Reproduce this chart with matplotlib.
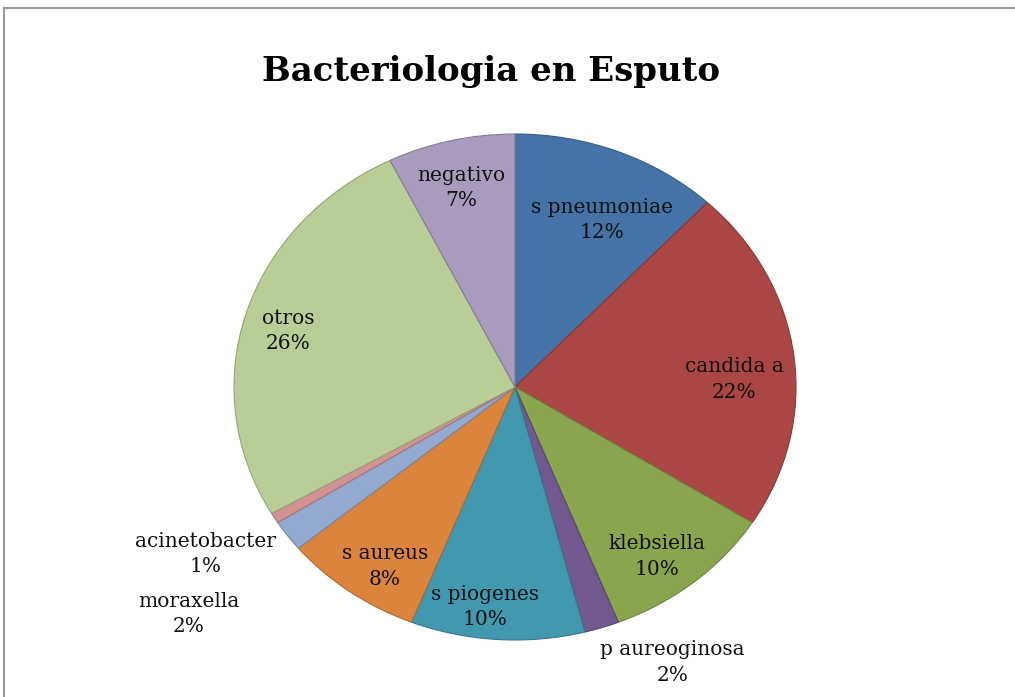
import matplotlib
matplotlib.use('Agg')
import matplotlib.pyplot as plt
from matplotlib.lines import Line2D
from matplotlib.colors import to_rgb

labels = ['s pneumoniae', 'candida a', 'klebsiella', 'p aureoginosa', 's piogenes',
          's aureus', 'moraxella', 'acinetobacter', 'otros', 'negativo']
counts = [18, 33, 15, 3, 15, 12, 3, 1, 39, 11]
colors = ['#4572A7', '#AA4643', '#89A54E', '#71588F', '#4198AF',
          '#DB843D', '#93A9CF', '#D19392', '#B9CD96', '#A99BBD']
# data label centres (pie radius = 1), Excel "best fit" placement
label_xy = [(0.31, 0.66), (0.78, 0.03), (0.505, -0.67), (0.56, -1.09), (-0.107, -0.87),
            (-0.463, -0.71), (-1.16, -0.897), (-1.103, -0.66), (-0.808, 0.221), (-0.192, 0.787)]

def darker(c, f=0.8):
    return tuple(v * f for v in to_rgb(c))

fig = plt.figure(figsize=(10.15, 6.97), dpi=100)
ax = fig.add_axes([234 / 1015, 1 - 640 / 697, 562 / 1015, 506 / 697])

wedges, _ = ax.pie(counts, colors=colors, startangle=90, counterclock=False,
                   wedgeprops=dict(linewidth=0.8))
for w, c in zip(wedges, colors):
    w.set_edgecolor(darker(c))

ax.set_aspect('auto')
ax.set_xlim(-1, 1)
ax.set_ylim(-1, 1)
ax.axis('off')

total = sum(counts)
for lab, n, (x, y) in zip(labels, counts, label_xy):
    pct = round(100 * n / total)
    ax.text(x, y, f'{lab}\n{pct}%', ha='center', va='center', fontsize=14.5,
            family='DejaVu Serif', linespacing=1.45, color='#111111', clip_on=False)

fig.text(491 / 1015, 1 - 72 / 697, 'Bacteriologia en Esputo', ha='center', va='center',
         fontsize=24.5, fontweight='bold', family='DejaVu Serif')

# chart border (top and left edges visible)
fig.add_artist(Line2D([4 / 1015, 1], [1 - 7.5 / 697, 1 - 7.5 / 697], color='#9a9a9a', lw=1.5,
                      transform=fig.transFigure))
fig.add_artist(Line2D([4 / 1015, 4 / 1015], [0, 1 - 7.5 / 697], color='#9a9a9a', lw=1.5,
                      transform=fig.transFigure))

fig.savefig('out.png', dpi=100)
